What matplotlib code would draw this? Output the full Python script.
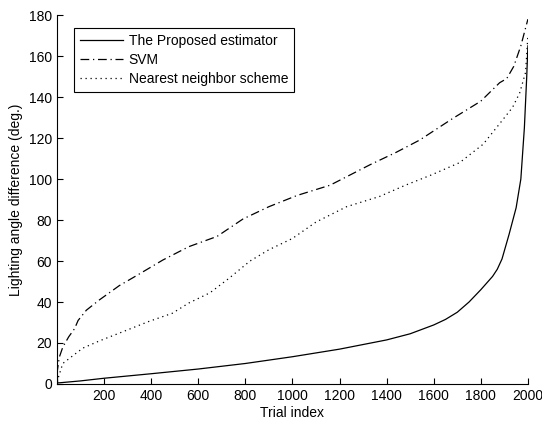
import matplotlib
matplotlib.use('Agg')
import matplotlib.pyplot as plt

plt.rcParams['font.family'] = ['Liberation Sans', 'DejaVu Sans']

# proposed estimator (solid)
prop_x = [0, 3, 100, 200, 400, 600, 800, 1000, 1200, 1400, 1500, 1600, 1650, 1700,
          1750, 1800, 1850, 1870, 1890, 1920, 1950, 1970, 1985, 1995, 2000]
prop_y = [10, 0.5, 1.5, 2.8, 5, 7.3, 10, 13.3, 17, 21.5, 24.5, 28.8, 31.5, 35,
          40, 46, 52.5, 56, 61, 73, 86, 100, 125, 150, 165]

# SVM (dash-dot)
svm_x = [0, 10, 25, 50, 75, 90, 125, 180, 265, 340, 450, 560, 680, 790, 900, 1020,
         1160, 1330, 1440, 1540, 1680, 1800, 1880, 1910, 1940, 1970, 2000]
svm_y = [5, 13, 18, 23, 27, 31, 36, 41, 48, 53, 60.5, 67, 72, 80.5, 86.5, 92,
         97, 107, 113, 119, 129.5, 138, 147, 149, 155, 165, 178]

# nearest neighbor scheme (dotted)
nn_x = [0, 25, 70, 110, 180, 280, 390, 490, 560, 650, 730, 820, 900, 1000, 1100,
        1230, 1370, 1480, 1590, 1710, 1810, 1880, 1935, 1965, 1990, 2000]
nn_y = [1, 10, 14, 17.5, 21, 25.5, 30.5, 34.5, 39.5, 44.5, 51.5, 60, 65.5, 71, 79,
        86.5, 91.5, 97, 102, 108, 117, 127, 135, 142, 152, 170]

x_ticks = list(range(200, 2001, 200))
y_ticks = list(range(0, 181, 20))

fig = plt.figure(figsize=(5.42, 4.25), dpi=100)
ax = fig.add_axes([0.105, 0.0965, 0.869, 0.868])

ax.plot(prop_x, prop_y, '-', color='black', lw=0.9, label='The Proposed estimator')
ax.plot(svm_x, svm_y, color='black', lw=0.9, linestyle=(0, (7, 3, 1, 3)), label='SVM')
ax.plot(nn_x, nn_y, color='black', lw=0.9, linestyle=(0, (1, 3)),
        label='Nearest neighbor scheme')

ax.set_xlim(0, 2000)
ax.set_ylim(0, 180)
ax.set_xticks(x_ticks)
ax.set_yticks(y_ticks)
ax.tick_params(direction='in', labelsize=10, length=4)
ax.spines['top'].set_visible(False)
ax.spines['right'].set_visible(False)

ax.set_xlabel('Trial index', fontsize=10, labelpad=2)
ax.set_ylabel('Lighting angle difference (deg.)', fontsize=10)

leg = ax.legend(loc='upper left', bbox_to_anchor=(0.036, 0.965), borderaxespad=0,
                fontsize=10, handlelength=3.1, handletextpad=0.4, labelspacing=0.35,
                borderpad=0.45, fancybox=False, edgecolor='black', framealpha=1)
leg.get_frame().set_linewidth(0.8)

plt.savefig('out.png', dpi=100)
